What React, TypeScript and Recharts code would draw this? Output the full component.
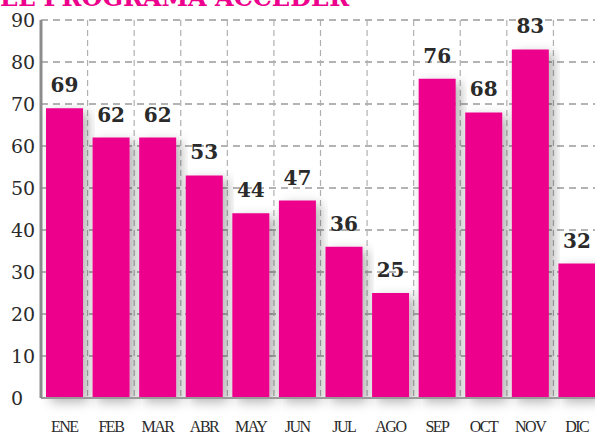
import React from 'react';
import {
  BarChart,
  Bar,
  XAxis,
  YAxis,
  CartesianGrid,
  LabelList,
} from 'recharts';

const MONTHS = ['ENE', 'FEB', 'MAR', 'ABR', 'MAY', 'JUN', 'JUL', 'AGO', 'SEP', 'OCT', 'NOV', 'DIC'];
const VALUES = [69, 62, 62, 53, 44, 47, 36, 25, 76, 68, 83, 32];
const Y_TICKS = [0, 10, 20, 30, 40, 50, 60, 70, 80, 90];
const TITLE = 'EL PROGRAMA ACCEDER';

const MAGENTA = '#EC008C';
const SERIF = '"DejaVu Serif", "Liberation Serif", serif';

const data = MONTHS.map((m, i) => ({ month: m, value: VALUES[i] }));

function YTick({ y, payload }: any) {
  return (
    <text x={11} y={y} dy={7} textAnchor="start" fontFamily={SERIF} fontSize={19} fill="#2a2a2a">
      {payload.value}
    </text>
  );
}

function XTick({ x, payload }: any) {
  return (
    <text
      x={x}
      y={432}
      textAnchor="middle"
      fontFamily='"Liberation Serif", serif'
      fontSize={16}
      letterSpacing={-1.5}
      fill="#2a2a2a"
    >
      {payload.value}
    </text>
  );
}

export default function App() {
  const band = 559 / MONTHS.length;
  return (
    <div
      style={{
        position: 'absolute',
        left: 0,
        top: 0,
        width: 595,
        height: 434,
        overflow: 'hidden',
        background: '#fff',
      }}
    >
      <BarChart
        width={610}
        height={434}
        data={data}
        margin={{ top: 20, right: 10, bottom: 6, left: 0 }}
        barCategoryGap={5}
      >
        <defs>
          <filter id="bar-shadow" x="-30%" y="-10%" width="160%" height="130%">
            <feDropShadow dx={5} dy={4} stdDeviation={6} floodColor="#000" floodOpacity={0.3} />
          </filter>
        </defs>
        <CartesianGrid vertical={false} stroke="#9a9a9a" strokeWidth={1.5} strokeDasharray="7 5" />
        <CartesianGrid
          horizontal={false}
          stroke="#b0b0b0"
          strokeWidth={1.2}
          strokeDasharray="6 4"
          verticalCoordinatesGenerator={({ offset }: any) =>
            MONTHS.map((_, i) => offset.left + band * (i + 1))
          }
        />
        <XAxis
          dataKey="month"
          height={30}
          tick={<XTick />}
          tickLine={false}
          axisLine={{ stroke: '#9a9a9a', strokeWidth: 2 }}
          interval={0}
        />
        <YAxis
          width={41}
          domain={[0, 90]}
          ticks={Y_TICKS}
          tick={<YTick />}
          tickLine={false}
          axisLine={{ stroke: '#8c8c8c', strokeWidth: 3 }}
          interval={0}
        />
        <Bar dataKey="value" fill={MAGENTA} isAnimationActive={false} filter="url(#bar-shadow)">
          <LabelList
            dataKey="value"
            position="top"
            offset={16}
            fontFamily={SERIF}
            fontSize={20}
            fontWeight="bold"
            fill="#2a2a2a"
          />
        </Bar>
      </BarChart>
      <div
        style={{
          position: 'absolute',
          left: 0,
          top: -14,
          zIndex: 2,
          lineHeight: '24px',
          fontFamily: SERIF,
          fontWeight: 'bold',
          fontSize: 24,
          color: MAGENTA,
          whiteSpace: 'nowrap',
        }}
      >
        {TITLE}
      </div>
    </div>
  );
}
